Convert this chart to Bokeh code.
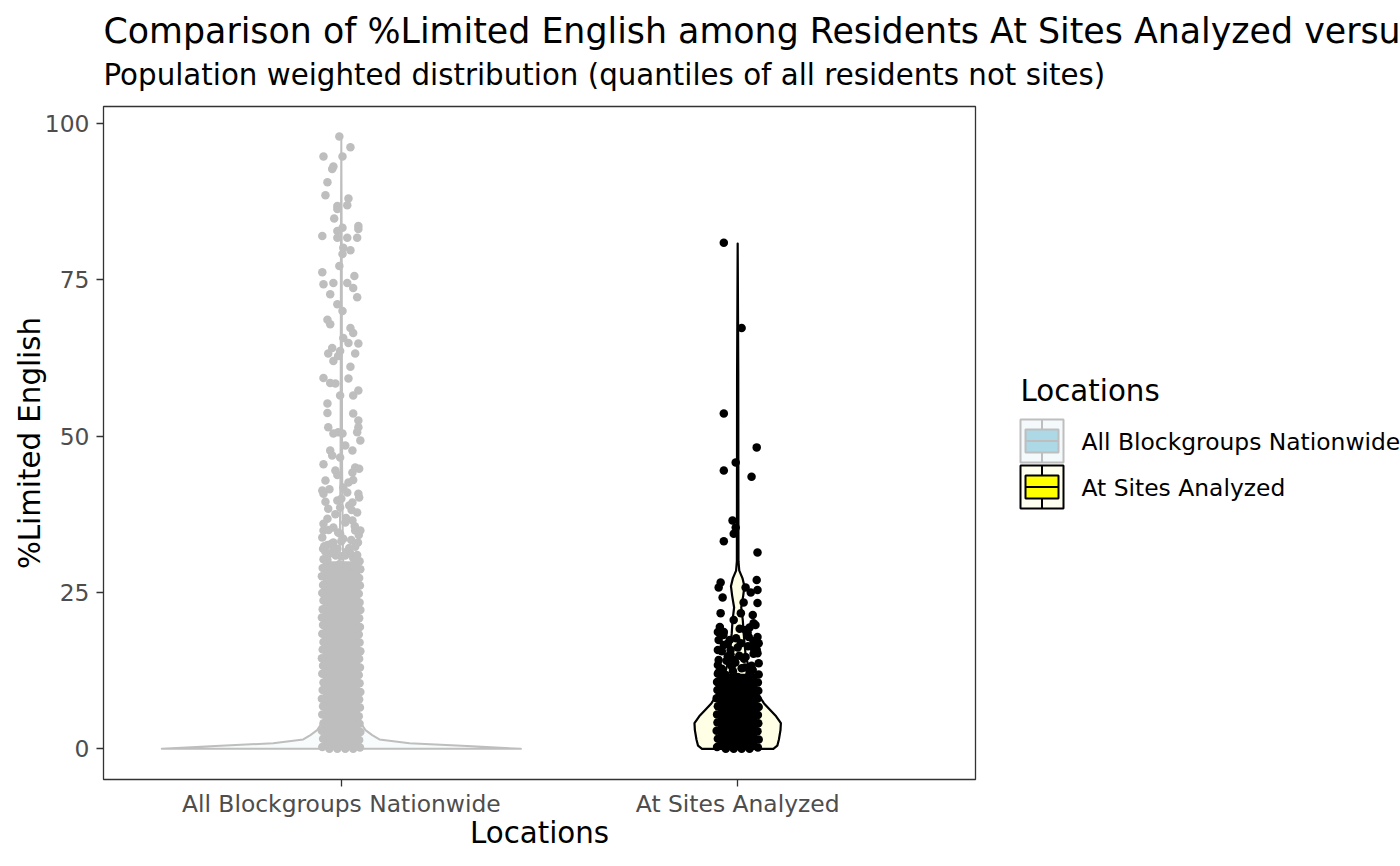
from bokeh.plotting import figure
from bokeh.layouts import column, row
from bokeh.models import FixedTicker, Range1d
from bokeh.core.properties import value
from bokeh.embed import file_html
from bokeh.resources import INLINE

FONT = "DejaVu Sans"
GRAY = "#BEBEBE"
TITLE = "Comparison of %Limited English among Residents At Sites Analyzed versus All Blockgroups Nationwide"
SUBTITLE = "Population weighted distribution (quantiles of all residents not sites)"

categories = ["All Blockgroups Nationwide", "At Sites Analyzed"]
cat_pos = [1, 2]

# violin outlines: %Limited English and half width (x units)
vio_all_y = [0, 0.2, 0.4, 0.9, 1.5, 2.2, 3.0, 5, 8, 12, 18, 25, 32, 45, 60, 80, 97.8]
vio_all_hw = [0.453, 0.39, 0.33, 0.172, 0.096, 0.078, 0.061, 0.04, 0.025, 0.016,
              0.01, 0.007, 0.004, 0.002, 0.0015, 0.001, 0.0]
vio_site_y = [0, 0.5, 1.5, 3, 4.1, 5.2, 6.2, 7.3, 8.5, 10, 12.5, 15, 18.5, 20.5,
              22.6, 24.5, 26, 27.3, 28.5, 30, 40, 60, 80.8]
vio_site_hw = [0.09, 0.1, 0.104, 0.108, 0.109, 0.097, 0.082, 0.066, 0.054, 0.042,
               0.03, 0.02, 0.015, 0.013, 0.009, 0.014, 0.017, 0.012, 0.004, 0.002,
               0.0018, 0.0015, 0.0]

# jittered points, all blockgroups (offset from category, value)
all_off = [-0.005, 0.023, -0.045, 0.003, -0.020, -0.023, -0.035, -0.040, 0.018, 0.015,
           -0.010, -0.010, -0.018, 0.043, 0.043, -0.048, -0.010, -0.010, 0.003, 0.015,
           0.040, 0.005, 0.023, 0.003, -0.005, -0.048, -0.045, 0.033, -0.020, 0.015,
           0.030, 0.040, -0.028, -0.010, 0.003, -0.035, -0.028, 0.023, 0.030, 0.005,
           0.018, 0.043, -0.023, -0.033, -0.020, -0.008, -0.003, 0.035, 0.023, -0.045,
           -0.028, -0.015, 0.018, -0.003, 0.030, 0.043, -0.035, -0.035, 0.030, 0.043,
           0.043, -0.033, -0.020, -0.008, 0.003, 0.040, 0.048, 0.028, -0.028, -0.023,
           -0.003, -0.015, 0.035, 0.028, 0.018, -0.040, -0.048, -0.045, 0.005, 0.015,
           0.043, 0.028, -0.010, -0.003, -0.033, -0.035, 0.028, 0.035, 0.048, -0.045,
           -0.048, -0.020, -0.003,
           -0.040, -0.025, 0.005, 0.020, 0.042, -0.045, 0.010, -0.015, 0.040, 0.020,
           -0.040, 0.000, 0.045, -0.030, 0.030, -0.010, 0.045, -0.045, 0.010, -0.035,
           0.030, -0.005, 0.015, -0.025, 0.038,
           -0.043, -0.020, 0.000, 0.022, 0.044, -0.032, -0.008, 0.012, 0.034, -0.046,
           0.026, -0.014]
all_val = [97.9, 96.2, 94.7, 94.7, 93.1, 92.7, 90.6, 88.5, 88.0, 86.9,
           86.8, 86.3, 84.8, 83.6, 83.1, 82.0, 82.8, 81.7, 83.3, 81.7,
           81.7, 80.1, 79.7, 79.1, 77.2, 76.2, 74.3, 75.6, 74.5, 74.5,
           73.7, 72.2, 72.7, 71.1, 70.0, 68.6, 67.9, 67.3, 66.5, 65.7,
           64.9, 64.8, 64.1, 63.2, 62.0, 62.8, 63.6, 63.2, 61.1, 59.3,
           58.5, 58.4, 59.2, 56.5, 56.5, 57.3, 55.2, 53.7, 53.6, 52.5,
           51.4, 51.4, 50.4, 50.6, 50.4, 50.6, 49.3, 47.7, 47.7, 46.9,
           46.6, 44.5, 45.0, 44.2, 42.6, 42.9, 41.3, 40.8, 41.8, 41.0,
           40.8, 39.4, 39.7, 38.6, 38.4, 36.8, 36.5, 34.9, 34.9, 34.9,
           33.8, 35.4, 34.4,
           31.5, 32.8, 33.6, 32.1, 33.0, 36.0, 36.2, 37.5, 37.8, 38.9,
           39.5, 40.0, 40.2, 41.5, 43.0, 43.8, 44.8, 45.5, 48.5, 30.2,
           30.5, 29.5, 29.0, 28.8, 28.5,
           32.4, 31.8, 33.2, 31.3, 34.2, 35.0, 34.6, 36.9, 35.6, 32.0,
           38.2, 30.9]
# dense part of the all-blockgroups cloud
all_dense_off = [-0.048, -0.046, -0.049, -0.045, -0.048, -0.046, -0.049, -0.047, -0.045, -0.048,
                 -0.046, -0.049, -0.047, -0.045, -0.048, -0.046, -0.049, -0.047, -0.045, -0.048,
                 -0.046, -0.049, -0.047, -0.045,
                 0.047, 0.045, 0.048, 0.046, 0.044, 0.047, 0.045, 0.048, 0.046, 0.044,
                 0.047, 0.045, 0.048, 0.046, 0.044, 0.047, 0.045, 0.048, 0.046, 0.044,
                 0.047, 0.045, 0.048, 0.046,
                 -0.03, -0.01, 0.015, 0.035, 0.0, -0.02, 0.025, 0.04, -0.035, 0.01,
                 -0.03, -0.01, 0.01, 0.03]
all_dense_val = [0.3, 1.6, 2.9, 4.1, 5.5, 6.8, 8.0, 9.4, 10.6, 12.0,
                 13.3, 14.5, 15.9, 17.1, 18.4, 19.8, 21.0, 22.3, 23.7, 24.9,
                 26.2, 27.6, 28.9, 30.3,
                 0.2, 1.4, 2.7, 4.0, 5.2, 6.6, 7.9, 9.1, 10.5, 11.8,
                 13.0, 14.4, 15.6, 17.0, 18.3, 19.5, 20.9, 22.2, 23.4, 24.8,
                 26.1, 27.3, 28.7, 30.0,
                 31.2, 32.0, 31.6, 32.3, 30.8, 33.0, 33.4, 31.0, 32.6, 30.9,
                 0.0, 0.0, 0.0, 0.0]
all_core_top = 30.0
all_core_width = 0.094

# jittered points, at sites analyzed
site_off = [-0.035, 0.010, -0.035, 0.048, -0.005, -0.035, 0.035, -0.013, -0.005, -0.010,
            -0.035, 0.050, -0.043, -0.048, -0.038, 0.048, 0.050, 0.020, 0.033, 0.050,
            -0.043, 0.008, 0.015, 0.038, 0.040, -0.010, -0.035, 0.020, 0.050,
            -0.050, -0.048, 0.053, 0.050, -0.050, -0.048, 0.053, 0.008, -0.018, 0.028,
            -0.010, 0.020, -0.035, 0.040,
            -0.040, -0.015, 0.010, 0.035, -0.025, 0.040, 0.000, -0.045, 0.025, -0.020,
            0.045, 0.005, -0.030, 0.030, 0.000,
            -0.050, -0.028, -0.006, 0.016, 0.038, -0.040, -0.018, 0.004, 0.026, 0.048,
            -0.048, -0.026, -0.004, 0.018, 0.040, -0.036, 0.030, -0.012]
site_val = [80.9, 67.3, 53.6, 48.2, 45.8, 44.5, 43.5, 36.5, 35.4, 34.4,
            33.2, 31.4, 26.6, 25.8, 24.2, 27.0, 25.4, 25.8, 25.0, 23.3,
            21.7, 21.7, 23.4, 21.4, 20.1, 20.6, 18.7, 19.0, 17.9,
            18.7, 17.4, 16.9, 15.3, 15.8, 14.2, 13.7, 16.9, 15.8, 17.9,
            14.2, 14.7, 16.6, 16.1,
            12.8, 13.2, 12.9, 13.3, 14.8, 15.2, 16.2, 19.5, 18.6, 17.4,
            19.8, 19.2, 11.8, 12.1, 11.5,
            13.4, 14.1, 13.8, 14.4, 12.6, 15.6, 15.1, 14.9, 16.4, 15.9,
            12.2, 16.8, 17.7, 13.0, 17.2, 18.2, 19.4, 12.4]
site_dense_off = [-0.052, -0.050, -0.053, -0.051, -0.052, -0.050, -0.053, -0.051, -0.052, -0.050,
                  0.051, 0.053, 0.050, 0.052, 0.051, 0.053, 0.050, 0.052, 0.051, 0.053,
                  -0.03, -0.01, 0.01, 0.03]
site_dense_val = [0.3, 1.6, 2.9, 4.2, 5.5, 6.8, 8.1, 9.4, 10.7, 12.0,
                  0.2, 1.5, 2.8, 4.1, 5.4, 6.7, 8.0, 9.3, 10.6, 11.9,
                  0.0, 0.0, 0.0, 0.0]
site_core_top = 12.0
site_core_width = 0.10


def violin(p, center, ys, hws, line_color, fill_color, line_width):
    xs = [center - w for w in hws] + [center + w for w in reversed(hws)]
    yy = list(ys) + list(reversed(ys))
    p.patch(xs, yy, fill_color=fill_color, fill_alpha=0.1,
            line_color=line_color, line_width=line_width, line_join="round")


p = figure(width=998, height=768, x_range=(0.4, 2.6), y_range=(-4.9, 102.7),
           toolbar_location=None, tools="", output_backend="svg", title=None,
           min_border_left=103, min_border_right=23, min_border_top=8,
           min_border_bottom=87)

violin(p, cat_pos[0], vio_all_y, vio_all_hw, GRAY, "lightblue", 2)
violin(p, cat_pos[1], vio_site_y, vio_site_hw, "black", "yellow", 2.2)

p.vbar(x=[cat_pos[0]], bottom=[0], top=[all_core_top], width=all_core_width,
       fill_color=GRAY, line_color=None)
p.vbar(x=[cat_pos[1]], bottom=[0], top=[site_core_top], width=site_core_width,
       fill_color="black", line_color=None)

gx = [cat_pos[0] + o for o in all_off + all_dense_off]
gy = all_val + all_dense_val
p.scatter(gx, gy, size=8.5, color=GRAY, line_color=None)

sx = [cat_pos[1] + o for o in site_off + site_dense_off]
sy = site_val + site_dense_val
p.scatter(sx, sy, size=8.5, color="black", line_color=None)

p.xgrid.visible = False
p.ygrid.visible = False
p.outline_line_color = "#333333"
p.outline_line_width = 1.3

p.xaxis.ticker = FixedTicker(ticks=cat_pos)
p.xaxis.major_label_overrides = {c: n for c, n in zip(cat_pos, categories)}
p.yaxis.ticker = FixedTicker(ticks=[0, 25, 50, 75, 100])
p.xaxis.axis_label = "Locations"
p.yaxis.axis_label = "%Limited English"
for ax in (p.xaxis, p.yaxis):
    ax.axis_line_color = None
    ax.major_tick_in = 0
    ax.major_tick_out = 7
    ax.major_tick_line_color = "#333333"
    ax.major_tick_line_width = 1.3
    ax.minor_tick_line_color = None
    ax.major_label_text_font = FONT
    ax.major_label_text_font_size = "23.4px"
    ax.major_label_text_color = "#4D4D4D"
    ax.axis_label_text_font = FONT
    ax.axis_label_text_font_size = "29.3px"
    ax.axis_label_text_font_style = "normal"
    ax.axis_label_text_color = "black"
p.xaxis.major_label_standoff = 3
p.xaxis.axis_label_standoff = -5
p.yaxis.major_label_standoff = 7
p.yaxis.axis_label_standoff = -5


def blank(width, height, y0, y1, top=0, bottom=0):
    f = figure(width=width, height=height, x_range=Range1d(0, width),
               y_range=Range1d(y1, y0), toolbar_location=None, tools="",
               output_backend="svg", min_border=0, min_border_top=top,
               min_border_bottom=bottom, title=None)
    f.axis.visible = False
    f.grid.visible = False
    f.outline_line_color = None
    return f


# title block (y in page pixels)
t = blank(1400, 98, 0, 98)
t.text(x=[103], y=[30], text=[TITLE], text_font=value(FONT), text_font_size="34.8px",
       text_color="black", text_baseline="alphabetic")
t.text(x=[103], y=[74], text=[SUBTITLE], text_font=value(FONT), text_font_size="29.3px",
       text_color="black", text_baseline="alphabetic")

# legend block: same frame rows as the main plot, y in page pixels
lg = blank(402, 768, 106, 779, top=8, bottom=87)
lg.text(x=[22], y=[390], text=["Locations"], text_font=value(FONT), text_font_size="29.3px",
        text_color="black", text_baseline="alphabetic")
keys = [(GRAY, "lightblue", "#F4F9FB", 419), ("black", "yellow", "#FFFFF0", 465)]
for i, (edge, box, bg, top) in enumerate(keys):
    lg.quad(left=[22], right=[65], top=[top], bottom=[top + 43], fill_color=bg,
            line_color=edge, line_width=2)
    lg.segment(x0=[43.5, 43.5], y0=[top, top + 33], x1=[43.5, 43.5], y1=[top + 10, top + 43],
               line_color=edge, line_width=2)
    lg.quad(left=[27], right=[60], top=[top + 10], bottom=[top + 33], fill_color=box,
            line_color=edge, line_width=2)
    lg.segment(x0=[27], y0=[top + 21.5], x1=[60], y1=[top + 21.5], line_color=edge,
               line_width=2)
    lg.text(x=[83], y=[top + 22], text=[categories[i]], text_font=value(FONT),
            text_font_size="23.4px", text_color="black", text_baseline="alphabetic")

layout = column(t, row(p, lg, spacing=0), spacing=0)
open("out.html", "w").write(file_html(layout, INLINE))
